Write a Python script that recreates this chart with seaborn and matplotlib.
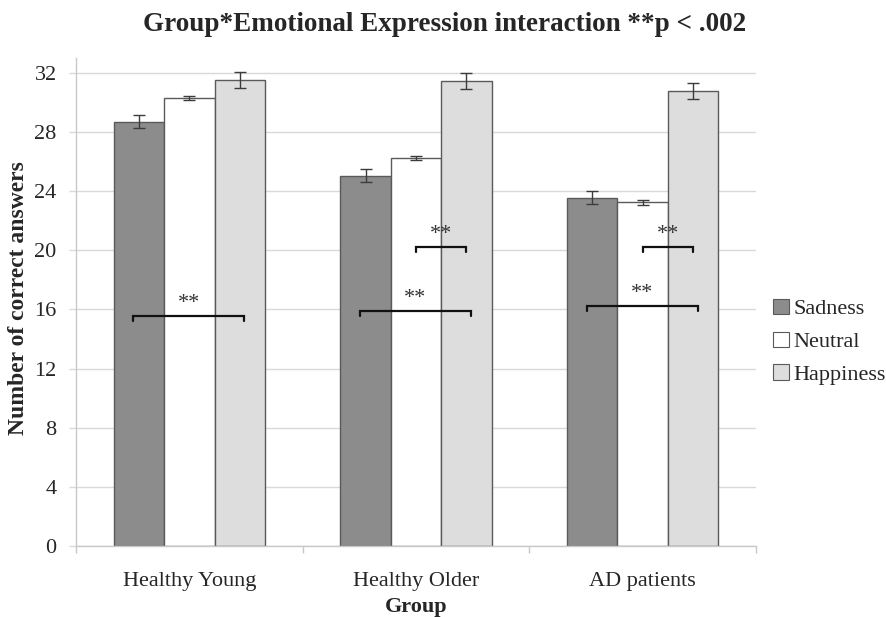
import numpy as np
import pandas as pd
import seaborn as sns
import matplotlib
matplotlib.use("Agg")
import matplotlib.pyplot as plt
from matplotlib.patches import Patch

# Mean correct answers and standard errors per group and emotion
groups = ["Healthy Young", "Healthy Older", "AD patients"]
emotions = ["Sadness", "Neutral", "Happiness"]
sadness = [28.7, 25.05, 23.55]
neutral = [30.3, 26.22, 23.25]
happiness = [31.5, 31.45, 30.8]
sadness_se = [0.43, 0.43, 0.45]
neutral_se = [0.15, 0.15, 0.17]
happiness_se = [0.52, 0.53, 0.54]

# Significance brackets: (group index, left emotion, right emotion, height)
brackets = [
    (0, "Sadness", "Happiness", 15.55),
    (1, "Sadness", "Happiness", 15.9),
    (1, "Neutral", "Happiness", 20.2),
    (2, "Sadness", "Happiness", 16.25),
    (2, "Neutral", "Happiness", 20.2),
]

colors = {"Sadness": "#8c8c8c", "Neutral": "#ffffff", "Happiness": "#dddddd"}

sns.set_theme(style="white")
plt.rcParams["font.family"] = ["Liberation Serif", "DejaVu Serif"]

df = pd.DataFrame({
    "Group": np.repeat(groups, 3),
    "Emotion": emotions * 3,
    "Score": [v for trio in zip(sadness, neutral, happiness) for v in trio],
    "SE": [v for trio in zip(sadness_se, neutral_se, happiness_se) for v in trio],
})

fig = plt.figure(figsize=(8.87, 6.17), dpi=100)
ax = fig.add_axes([0.0857, 0.1151, 0.7666, 0.7909])

sns.barplot(data=df, x="Group", y="Score", hue="Emotion", order=groups,
            hue_order=emotions, palette=colors, errorbar=None, width=0.667,
            edgecolor="#5a5a5a", linewidth=1.0, legend=False, ax=ax, zorder=2)

# Error bars at each bar's centre
centers = {}
for emo, cont in zip(emotions, ax.containers):
    for grp, bar in zip(groups, cont):
        cx = bar.get_x() + bar.get_width() / 2
        centers[(grp, emo)] = cx
        row = df[(df.Group == grp) & (df.Emotion == emo)].iloc[0]
        ax.errorbar(cx, row.Score, yerr=row.SE, fmt="none", ecolor="#3c3c3c",
                    elinewidth=1.0, capsize=4, capthick=1.0, zorder=3)

# Significance brackets with stars
tick_h = 0.35
for gi, left, right, h in brackets:
    grp = groups[gi]
    x0 = centers[(grp, left)] - (0.025 if left == "Sadness" else 0.0)
    x1 = centers[(grp, right)] + 0.02 if left == "Sadness" else centers[(grp, right)]
    ax.plot([x0, x0, x1, x1], [h - tick_h, h, h, h - tick_h], color="#111111",
            lw=1.6, zorder=4, solid_joinstyle="miter")
    ax.text((x0 + x1) / 2, h + 0.2, "**", ha="center", va="bottom",
            fontsize=16, color="#333333", zorder=4)

ax.set_ylim(0, 33)
ax.set_xlim(-0.5, 2.5)
ax.set_yticks(np.arange(0, 33, 4))
ax.yaxis.grid(True, color="#d9d9d9", lw=1.0)
ax.set_axisbelow(True)
ax.tick_params(axis="y", which="major", length=5, color="#d9d9d9", width=1.0,
               labelsize=16, pad=9, left=True)
ax.set_xticks(range(3))
ax.set_xticklabels(groups)
ax.set_xticks([-0.5, 0.5, 1.5, 2.5], minor=True)
ax.tick_params(axis="x", which="major", length=0, labelsize=16, pad=19)
ax.tick_params(axis="x", which="minor", length=5, color="#c8c8c8", width=1.0,
               bottom=True, direction="out")

for side in ["top", "right"]:
    ax.spines[side].set_visible(False)
for side in ["left", "bottom"]:
    ax.spines[side].set_color("#c8c8c8")
    ax.spines[side].set_linewidth(1.0)

ax.set_xlabel("Group", fontsize=16, fontweight="bold", labelpad=4)
ax.set_ylabel("Number of correct answers", fontsize=17, fontweight="bold")
ax.yaxis.set_label_coords(-0.069, 0.508)
fig.suptitle("Group*Emotional Expression interaction **p < .002", x=0.501, y=0.981,
             va="top", fontsize=19.5, fontweight="bold")

handles = [Patch(facecolor=colors[e], edgecolor="#5a5a5a", lw=0.8, label=e)
           for e in emotions]
fig.legend(handles=handles, loc="upper left", bbox_to_anchor=(0.862, 0.53),
           frameon=False, fontsize=16, handlelength=0.7, handleheight=0.7,
           handletextpad=0.2, labelspacing=0.55, borderaxespad=0)

fig.savefig("out.png", dpi=100, facecolor="white")
